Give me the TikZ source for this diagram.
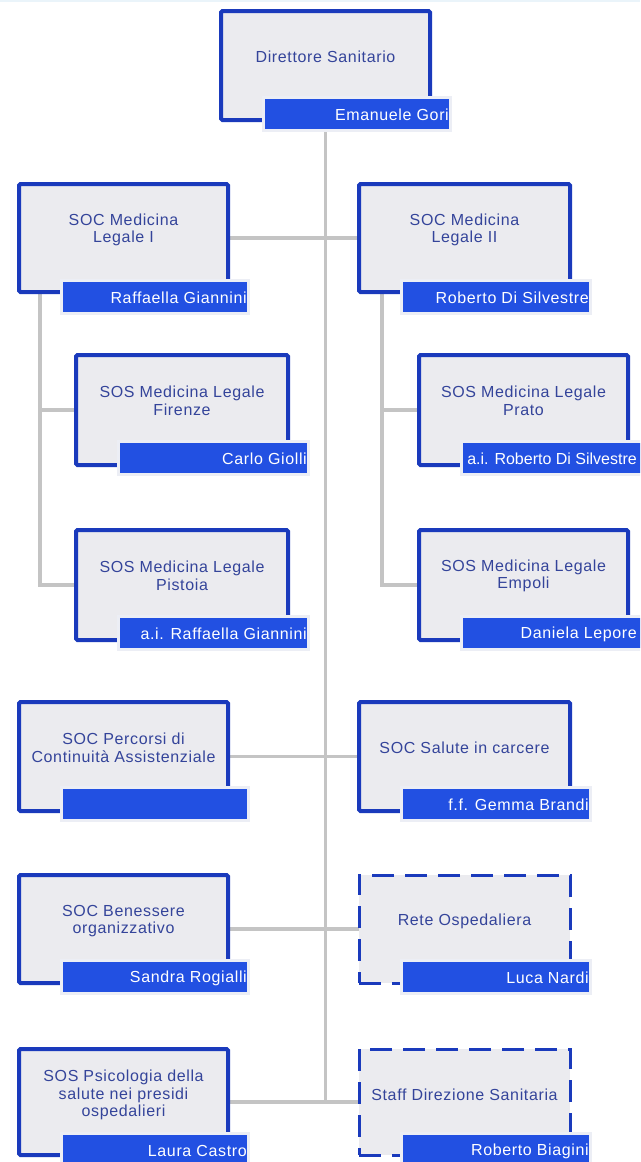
\documentclass[tikz,border=0pt]{standalone}
\usepackage{fontspec}
\setmainfont{Liberation Sans}
\newfontfamily\orgfont[LetterSpace=4]{Liberation Sans}
\newfontfamily\orgtight{Liberation Sans}
\usetikzlibrary{calc}

\definecolor{framebl}{HTML}{1A3ABC}
\definecolor{barbl}{HTML}{2250E2}
\definecolor{boxfill}{HTML}{EBEBEF}
\definecolor{labelbl}{HTML}{34449A}
\definecolor{linkgr}{HTML}{C4C4C4}
\definecolor{barhalo}{HTML}{ECEEF5}
\definecolor{topedge}{HTML}{EAF4FA}

\pgfdeclarelayer{bg}
\pgfsetlayers{bg,main}

\tikzset{
  unitbox/.style={draw=framebl, line width=4pt, fill=boxfill, rounded corners=1.5pt,
    inner sep=0pt, outer sep=0pt},
  unitdash/.style={draw=framebl, line width=3pt, fill=boxfill, dash pattern=on 22pt off 11pt,
    inner sep=0pt, outer sep=0pt},
  namebar/.style={fill=barbl, inner sep=0pt, outer sep=0pt},
  unitlabel/.style={font=\orgfont\fontsize{16}{17.5}\selectfont, text=labelbl, align=center,
    inner sep=0pt},
  namelabel/.style={font=\orgfont\fontsize{16}{17.5}\selectfont, text=white, inner sep=0pt},
  link/.style={draw=linkgr, line width=3.5pt},
}

% #1 name, #2 frame style, #3-#6 outer left/top/right/bottom,
% #7 unit name, #8 person, #9 how far the name bar rises above the frame bottom
\newcommand\orgunit[9]{%
  \node[#2, anchor=north west, minimum width={#5-#3-4}, minimum height={#6-#4-4}]
    (#1) at ({#3+2},{#4+2}) {};
  \node[unitlabel] (#1-txt) at ($(#1.north)+(0,46)$) {#7};
  \fill[barhalo] ({#3+43},{#6-#9-3}) rectangle ({#5+20},{#6-#9+33});
  \node[namebar, anchor=north west, minimum width={#5+17-#3-46}, minimum height=30]
    (#1-bar) at ({#3+46},{#6-#9}) {};
  % the person's name ends at the bar's right edge, or at the page edge if that comes first
  \pgfmathsetmacro\whoend{min(#5+17,637)}%
  \begin{scope}
    \clip (#1-bar.north west) rectangle (#1-bar.south east);
    \node[namelabel, anchor=east] (#1-who) at ({\whoend},{#6-#9+16}) {#8};
  \end{scope}%
}

\begin{document}
\begin{tikzpicture}[x=1pt, y=-1pt]
  \useasboundingbox (0,0) rectangle (640,1162);
  \clip (0,0) rectangle (640,1162);
  \fill[topedge] (0,0) rectangle (640,2);

  \orgunit{dir}{unitbox}{219}{9}{432}{122}{Direttore Sanitario}{Emanuele Gori}{23}

  \orgunit{ml1}{unitbox}{17}{182}{230}{294}{SOC Medicina\\Legale I}{Raffaella Giannini}{12}
  \orgunit{ml2}{unitbox}{357}{182}{572}{294}{SOC Medicina\\Legale II}{Roberto Di Silvestre}{12}

  \orgunit{fir}{unitbox}{74}{353}{290}{467}{SOS Medicina Legale\\Firenze}{Carlo Giolli}{24}
  \orgunit{pis}{unitbox}{74}{528}{290}{642}{SOS Medicina Legale\\Pistoia}{a.i. Raffaella Giannini}{24}
  \orgunit{pra}{unitbox}{417}{353}{630}{467}{SOS Medicina Legale\\Prato}{\orgtight a.i. Roberto Di Silvestre}{24}
  \orgunit{emp}{unitbox}{417}{528}{630}{642}{SOS Medicina Legale\\Empoli}{Daniela Lepore}{24}

  \orgunit{per}{unitbox}{17}{700}{230}{813}{SOC Percorsi di\\Continuità Assistenziale}{}{24}
  \orgunit{sal}{unitbox}{357}{700}{572}{813}{SOC Salute in carcere}{f.f. Gemma Brandi}{24}

  \orgunit{ben}{unitbox}{17}{873}{230}{985}{SOC Benessere\\organizzativo}{Sandra Rogialli}{23}
  \orgunit{ret}{unitdash}{357}{873}{572}{985}{Rete Ospedaliera}{Luca Nardi}{23}

  \orgunit{psi}{unitbox}{17}{1047}{230}{1157}{SOS Psicologia della\\salute nei presidi\\ospedalieri}{Laura Castro}{22}
  \orgunit{sta}{unitdash}{357}{1047}{572}{1157}{Staff Direzione Sanitaria}{Roberto Biagini}{22}

  \begin{pgfonlayer}{bg}
    % main trunk and the horizontal links of each row
    \draw[link] (dir.south) -- (dir.south |- psi.east);
    \draw[link] (ml1.east) -- (ml2.west);
    \draw[link] (per.east) -- (sal.west);
    \draw[link] (ben.east) -- (ret.west);
    \draw[link] (psi.east) -- (sta.west);
    % sub-units
    \draw[link] ($(ml1.south west)+(21,0)$) |- (fir.west);
    \draw[link] ($(ml1.south west)+(21,0)$) |- (pis.west);
    \draw[link] ($(ml2.south west)+(23,0)$) |- (pra.west);
    \draw[link] ($(ml2.south west)+(23,0)$) |- (emp.west);
  \end{pgfonlayer}
\end{tikzpicture}
\end{document}
